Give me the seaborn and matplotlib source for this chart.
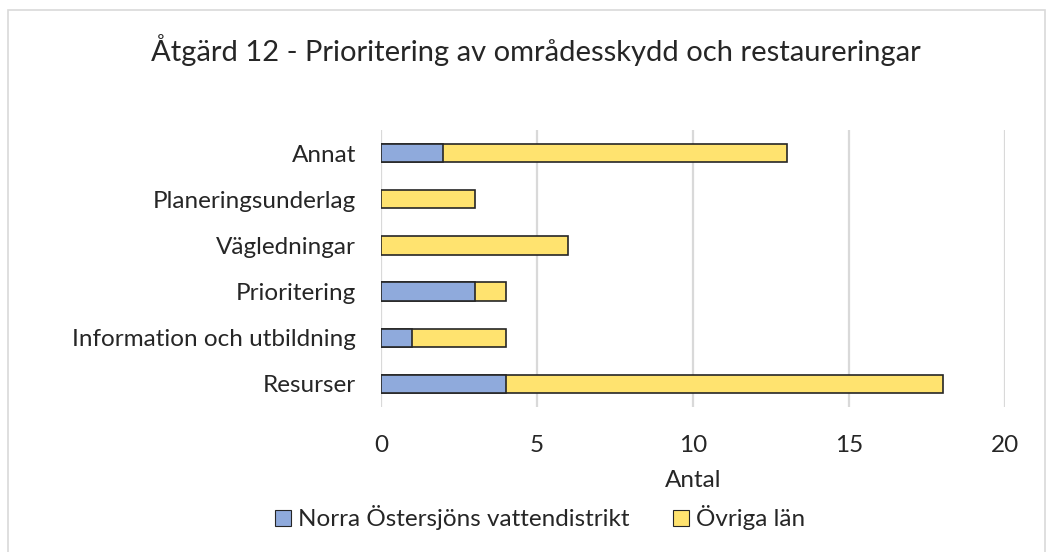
import numpy as np
import pandas as pd
import seaborn as sns
import matplotlib.pyplot as plt
from matplotlib.patches import Rectangle, Patch

sns.set_style("white")
plt.rcParams['font.family'] = ['Lato', 'DejaVu Sans']

categories = ["Annat", "Planeringsunderlag", "Vägledningar", "Prioritering",
              "Information och utbildning", "Resurser"]
norra = [2, 0, 0, 3, 1, 4]
ovriga = [11, 3, 6, 1, 3, 14]
series_names = ["Norra Östersjöns vattendistrikt", "Övriga län"]

blue = "#8FAADC"
yellow = "#FFE36F"
edge = "#262626"
fs = 17.5

df = pd.DataFrame({"kategori": categories, "norra": norra, "ovriga": ovriga})
df["total"] = df["norra"] + df["ovriga"]

fig = plt.figure(figsize=(10.51, 5.52), dpi=100)
ax = fig.add_axes([381 / 1051, 1 - 407 / 552, 624 / 1051, 277 / 552])

# stacked: total in yellow first, then the blue part on top
sns.barplot(data=df, y="kategori", x="total", color=yellow, orient="h",
            width=0.4, edgecolor=edge, linewidth=1.2, saturation=1, ax=ax)
sns.barplot(data=df, y="kategori", x="norra", color=blue, orient="h",
            width=0.4, edgecolor=edge, linewidth=1.2, saturation=1, ax=ax)
# hide zero-width blue bars
for p in ax.patches[len(categories):]:
    if p.get_width() == 0:
        p.set_visible(False)

ax.set_xlim(0, 20)
ax.set_ylim(5.5, -0.5)
ax.set_xticks([0, 5, 10, 15, 20])
ax.xaxis.grid(True, color="#D9D9D9", linewidth=1.6)
ax.set_axisbelow(True)
for s in ax.spines.values():
    s.set_visible(False)
ax.tick_params(axis="y", length=0, pad=18, labelsize=fs, labelcolor="#262626")
ax.tick_params(axis="x", length=0, pad=20, labelsize=fs, labelcolor="#262626")
ax.set_ylabel("")
ax.set_xlabel("Antal", fontsize=fs, color="#262626", labelpad=10)

fig.text(0.51, 1 - 50 / 552, "Åtgärd 12 - Prioritering av områdesskydd och restaureringar",
         ha="center", va="center", fontsize=21, color="#262626")

handles = [Patch(facecolor=blue, edgecolor=edge, linewidth=0.8),
           Patch(facecolor=yellow, edgecolor=edge, linewidth=0.8)]
fig.legend(handles, series_names, loc="center", bbox_to_anchor=(540 / 1051, 1 - 518 / 552),
           ncol=2, frameon=False, fontsize=fs, handlelength=0.65, handleheight=0.65,
           handletextpad=0.3, columnspacing=1.8, labelcolor="#262626")

fig.patches.append(Rectangle((8 / 1051, -0.01), 1037 / 1051, 1 - 10 / 552 + 0.01,
                             transform=fig.transFigure, fill=False,
                             edgecolor="#D9D9D9", linewidth=1.2))

plt.savefig("out.png", dpi=100)
